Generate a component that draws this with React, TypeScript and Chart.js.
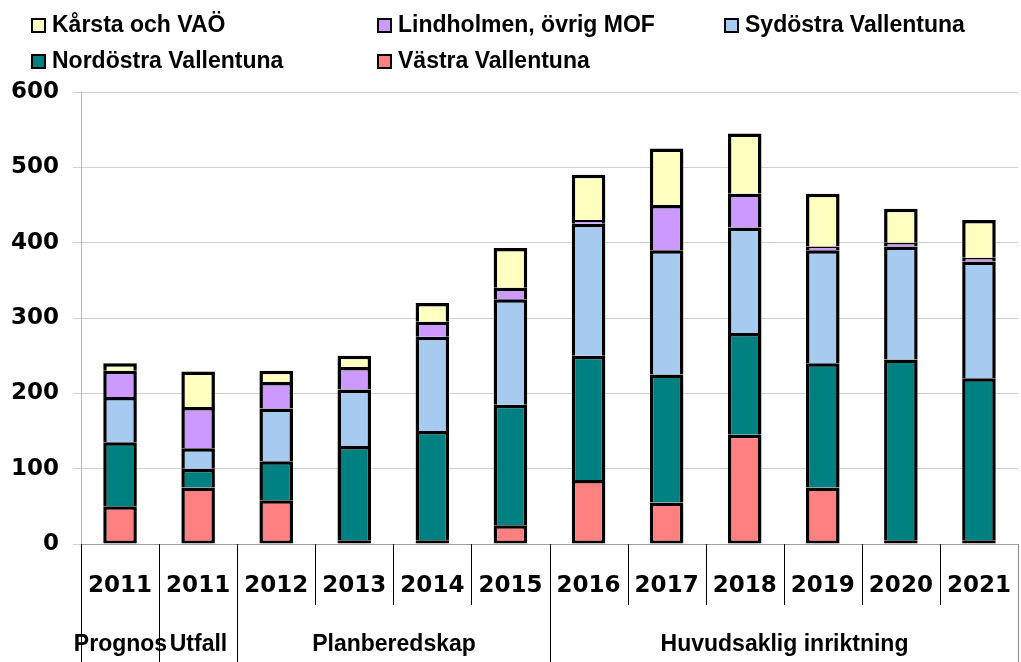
import React, { useEffect, useRef } from "react";
import { Chart, registerables } from "chart.js";

Chart.register(...registerables);

const categories = ["2011", "2011", "2012", "2013", "2014", "2015", "2016", "2017", "2018", "2019", "2020", "2021"];
const groupLabels = ["Prognos", "Utfall", "Planberedskap", "Huvudsaklig inriktning"];
const groupSpans = [1, 1, 4, 6];

const vastra = [50, 75, 58, 5, 5, 25, 85, 55, 145, 75, 5, 5];
const nordostra = [85, 25, 52, 125, 145, 160, 165, 170, 135, 165, 240, 215];
const sydostra = [60, 27, 70, 75, 125, 140, 175, 165, 140, 150, 150, 155];
const lindholmen = [35, 55, 35, 30, 20, 15, 5, 60, 45, 5, 5, 5];
const karsta = [10, 47, 15, 15, 25, 53, 60, 75, 80, 70, 45, 50];

const yTicks = [0, 100, 200, 300, 400, 500, 600];

const legendOrder = [4, 3, 2, 1, 0];
const legendPos = [
  [32, 25],
  [378, 25],
  [725, 25],
  [32, 61],
  [378, 61],
];

const customPlugin = {
  id: "customDraw",
  afterDraw(chart: any) {
    const { ctx, chartArea } = chart;
    const x = chart.scales.x;
    const step = x.getPixelForValue(1) - x.getPixelForValue(0);
    const edge = (i: number) => Math.round(x.getPixelForValue(0) - step / 2 + i * step) + 0.5;
    ctx.save();
    ctx.strokeStyle = "#000";
    ctx.lineWidth = 1;
    for (let i = 0; i <= categories.length; i++) {
      ctx.beginPath();
      ctx.moveTo(edge(i), chartArea.bottom);
      ctx.lineTo(edge(i), chartArea.bottom + 61);
      ctx.stroke();
    }
    let acc = 0;
    const bounds = [0];
    groupSpans.forEach((s) => {
      acc += s;
      bounds.push(acc);
    });
    bounds.forEach((b, idx) => {
      ctx.strokeStyle = idx === bounds.length - 1 ? "#888" : "#000";
      ctx.beginPath();
      ctx.moveTo(edge(b), chartArea.bottom);
      ctx.lineTo(edge(b), 662);
      ctx.stroke();
    });
    ctx.fillStyle = "#000";
    ctx.textAlign = "center";
    ctx.textBaseline = "middle";
    ctx.font = "bold 23px 'DejaVu Sans'";
    categories.forEach((c, i) => {
      ctx.fillText(c, x.getPixelForValue(i), 586);
    });
    ctx.font = "bold 23px 'Liberation Sans'";
    groupLabels.forEach((g, idx) => {
      const cx = (edge(bounds[idx]) + edge(bounds[idx + 1])) / 2;
      ctx.fillText(g, cx, 645);
    });
    ctx.textAlign = "left";
    ctx.font = "bold 23px 'Liberation Sans'";
    legendOrder.forEach((di, k) => {
      const ds = chart.data.datasets[di];
      const [lx, ly] = legendPos[k];
      ctx.fillStyle = ds.backgroundColor;
      ctx.fillRect(lx, ly - 6, 13, 13);
      ctx.strokeStyle = "#000";
      ctx.lineWidth = 2;
      ctx.strokeRect(lx, ly - 6, 13, 13);
      ctx.fillStyle = "#000";
      ctx.fillText(ds.label, lx + 20, ly + 1);
    });
    ctx.restore();
  },
};

export default function App() {
  const ref = useRef<HTMLCanvasElement>(null);
  useEffect(() => {
    if (!ref.current) return;
    const bw = (bottom: number) => ({ top: 3.5, left: 3.5, right: 3.5, bottom });
    const mk = (label: string, data: number[], color: string, bottom: number) => ({
      label,
      data,
      backgroundColor: color,
      borderColor: "#000",
      borderWidth: bw(bottom),
      borderSkipped: false,
      categoryPercentage: 1,
      barPercentage: 0.43,
    });
    const chart = new Chart(ref.current, {
      type: "bar",
      data: {
        labels: categories,
        datasets: [
          mk("Västra Vallentuna", vastra, "#FF8080", 3),
          mk("Nordöstra Vallentuna", nordostra, "#008080", 0),
          mk("Sydöstra Vallentuna", sydostra, "#A6CAF0", 0),
          mk("Lindholmen, övrig MOF", lindholmen, "#CC99FF", 0),
          mk("Kårsta och VAÖ", karsta, "#FFFFC0", 0),
        ],
      },
      options: {
        responsive: false,
        animation: false,
        layout: { padding: { top: 92, right: 3, left: 0, bottom: 0 } },
        plugins: { legend: { display: false }, tooltip: { enabled: false } },
        scales: {
          x: {
            stacked: true,
            ticks: { display: false },
            grid: { display: false },
            border: { color: "#a0a0a0" },
            afterFit: (s: any) => {
              s.height = 118;
            },
          },
          y: {
            stacked: true,
            min: 0,
            max: 600,
            afterBuildTicks: (s: any) => {
              s.ticks = yTicks.map((v) => ({ value: v }));
            },
            ticks: {
              color: "#000",
              padding: 14,
              font: { family: "'DejaVu Sans'", weight: "bold", size: 23 },
            },
            grid: { color: "#d0d0d0", tickLength: 8 },
            border: { color: "#b8b8b8" },
            afterFit: (s: any) => {
              s.width = 81;
            },
          },
        },
      },
      plugins: [customPlugin],
    });
    return () => chart.destroy();
  }, []);
  return (
    <div style={{ position: "absolute", left: 0, top: 0, width: 1021, height: 662, background: "#fff" }}>
      <canvas ref={ref} width={1021} height={662} />
    </div>
  );
}
